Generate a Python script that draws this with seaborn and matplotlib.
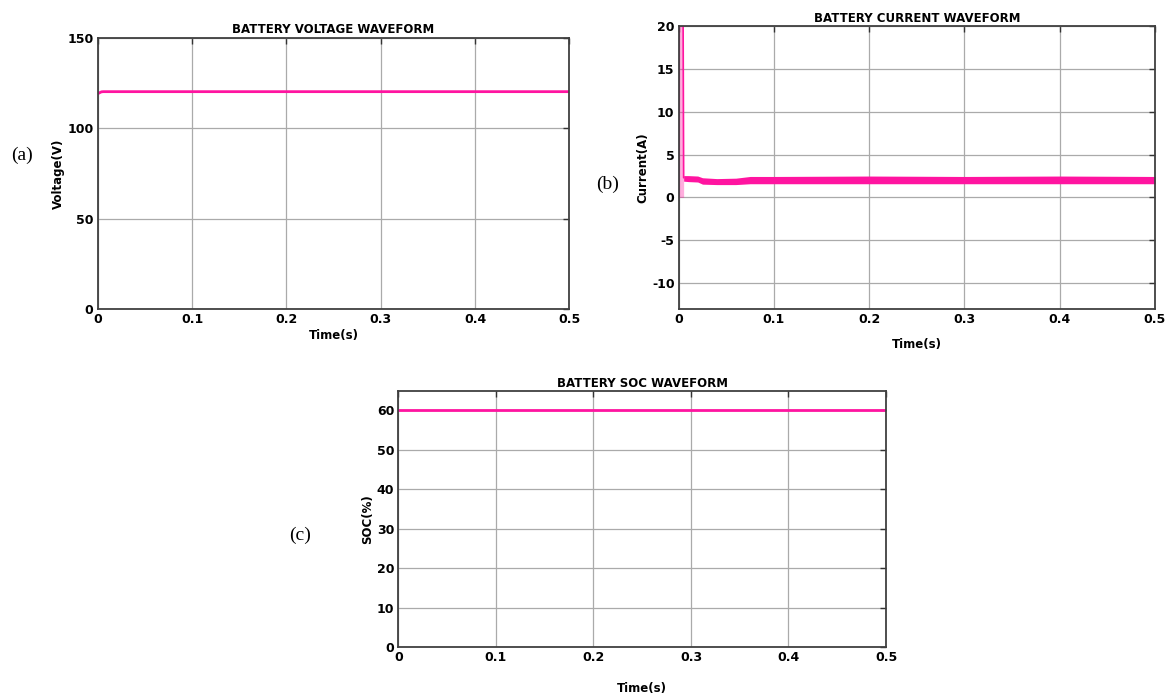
import matplotlib.pyplot as plt
import seaborn as sns
import pandas as pd
import numpy as np

sns.set_style("white")
plt.rcParams['font.family'] = ['DejaVu Sans']
plt.rcParams['text.color'] = 'black'
plt.rcParams['axes.labelcolor'] = 'black'
plt.rcParams['xtick.color'] = 'black'
plt.rcParams['ytick.color'] = 'black'

pink = '#ff14a0'

# battery voltage (V)
v_time = [0.0, 0.002, 0.004, 0.006, 0.5]
v_volt = [119.2, 119.8, 120.3, 120.4, 120.4]

# battery current (A): spike then a ripple band (lower / upper envelope)
i_spike_t = [0.0, 0.0004, 0.0008, 0.0045, 0.0052]
i_spike_v = [0.0, 25.0, 25.0, 25.0, 2.3]
i_time = [0.0052, 0.01, 0.02, 0.025, 0.04, 0.06, 0.075, 0.1, 0.2, 0.3, 0.4, 0.5]
i_low = [1.9, 1.85, 1.8, 1.55, 1.5, 1.5, 1.6, 1.6, 1.6, 1.6, 1.6, 1.6]
i_high = [2.55, 2.55, 2.5, 2.3, 2.2, 2.25, 2.45, 2.45, 2.5, 2.45, 2.5, 2.45]

# battery SOC (%)
s_time = [0.0, 0.5]
s_soc = [60.0, 60.0]

xticks = [0, 0.1, 0.2, 0.3, 0.4, 0.5]
xtick_labels = ['0', '0.1', '0.2', '0.3', '0.4', '0.5']

fig = plt.figure(figsize=(11.74, 6.99), dpi=100)
ax_a = fig.add_axes([0.0832, 0.5584, 0.4018, 0.3868])
ax_b = fig.add_axes([0.5781, 0.5584, 0.4057, 0.4040])
ax_c = fig.add_axes([0.3393, 0.0740, 0.4154, 0.3671])


def style(ax, ylim, yticks, title, ylabel, xlabel_pad, title_pad):
    ax.set_xlim(0, 0.5)
    ax.set_ylim(*ylim)
    ax.set_xticks(xticks)
    ax.set_xticklabels(xtick_labels, fontweight='bold', fontsize=9)
    ax.set_yticks(yticks)
    ax.set_yticklabels([str(t) for t in yticks], fontweight='bold', fontsize=9)
    ax.grid(True, color='#aaaaaa', lw=0.9)
    ax.set_axisbelow(True)
    ax.tick_params(direction='in', top=True, right=True, length=4,
                   width=1, color='#333333', pad=3)
    for s in ax.spines.values():
        s.set_color('#404040')
        s.set_linewidth(1.3)
    ax.set_title(title, fontweight='bold', fontsize=8.5, pad=title_pad)
    ax.set_ylabel(ylabel, fontweight='bold', fontsize=8.5, labelpad=2)
    ax.set_xlabel('Time(s)', fontweight='bold', fontsize=8.5, labelpad=xlabel_pad)


# (a) voltage
sns.lineplot(x=v_time, y=v_volt, ax=ax_a, color=pink, lw=2)
style(ax_a, (0, 150), [0, 50, 100, 150], 'BATTERY VOLTAGE WAVEFORM', 'Voltage(V)', 2, 4)

# (b) current
ax_b.fill_between(i_spike_t, 0, i_spike_v, color=pink, alpha=0.35, lw=0)
sns.lineplot(x=i_spike_t, y=i_spike_v, ax=ax_b, color=pink, lw=1.2, sort=False)
ax_b.fill_between(i_time, i_low, i_high, color=pink, lw=0)
style(ax_b, (-13, 20), [-10, -5, 0, 5, 10, 15, 20], 'BATTERY CURRENT WAVEFORM',
      'Current(A)', 9, 3)

# (c) SOC
sns.lineplot(x=s_time, y=s_soc, ax=ax_c, color=pink, lw=2)
style(ax_c, (0, 65), [0, 10, 20, 30, 40, 50, 60], 'BATTERY SOC WAVEFORM', 'SOC(%)', 13, 3)

serif = ['Liberation Serif', 'DejaVu Serif']
fig.text(22 / 1174, 1 - 155 / 699, '(a)', family=serif, fontsize=14, ha='center', va='center')
fig.text(608 / 1174, 1 - 184 / 699, '(b)', family=serif, fontsize=14, ha='center', va='center')
fig.text(300 / 1174, 1 - 535 / 699, '(c)', family=serif, fontsize=14, ha='center', va='center')

fig.savefig('out.png', dpi=100)
